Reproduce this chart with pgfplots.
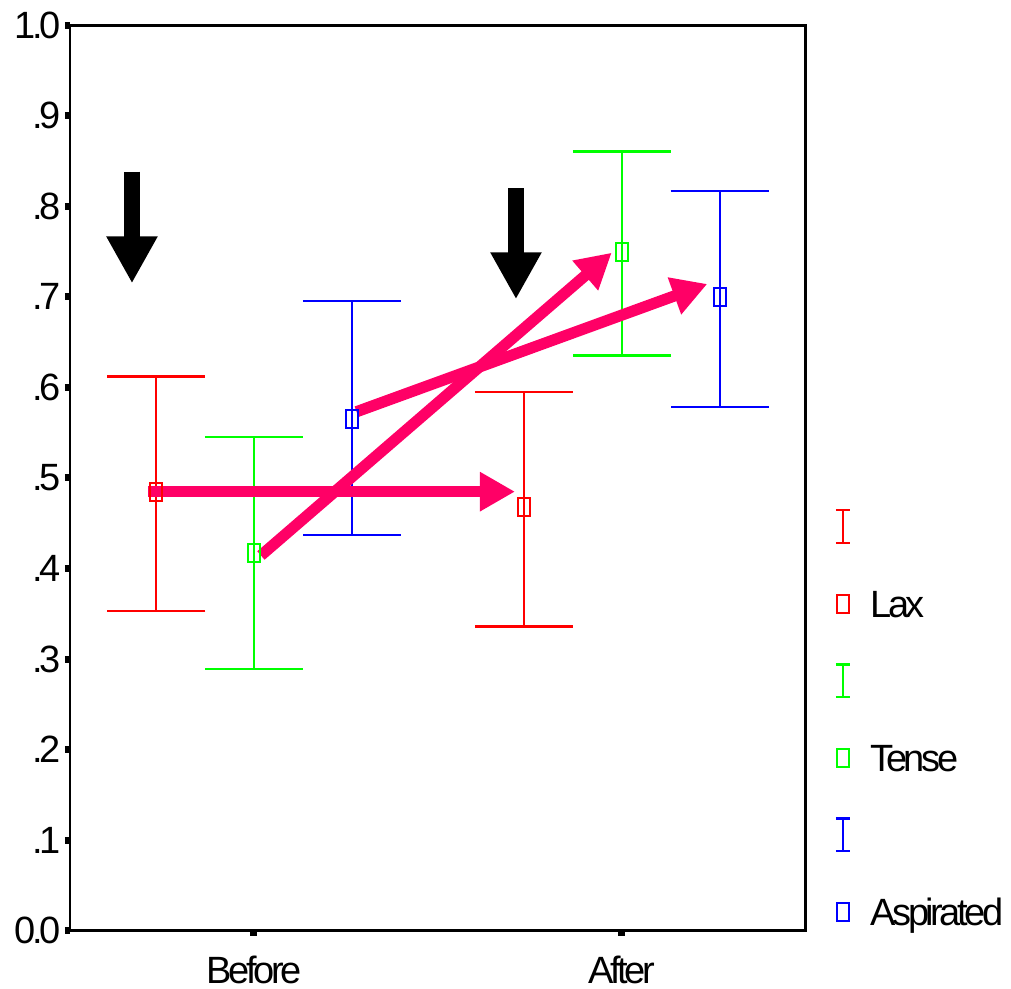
\documentclass[border=0pt]{standalone}
\usepackage{fontspec}
\setmainfont{Liberation Sans}[LetterSpace=-9]
\usepackage{pgfplots}
\pgfplotsset{compat=1.18}
\usetikzlibrary{arrows.meta}
\definecolor{pinkarrow}{RGB}{255,0,102}
\newcommand{\chartfont}{\fontsize{19}{22}\selectfont}
\begin{document}
\begin{tikzpicture}
\path[use as bounding box] (-35pt,-29.15pt) rectangle (470.5pt,465.35pt);
\begin{axis}[
  scale only axis, width=367.85pt, height=452.7pt,
  xmin=0.5, xmax=2.5, ymin=0, ymax=1,
  axis line style={line width=1.4pt},
  tick align=outside, tick pos=left,
  major tick length=2.5pt,
  tick style={line width=3.5pt, black},
  xtick={1,2}, xticklabels={Before,After},
  ytick={0,0.1,0.2,0.3,0.4,0.5,0.6,0.7,0.8,0.9,1.0},
  yticklabels={0.0,.1,.2,.3,.4,.5,.6,.7,.8,.9,1.0},
  tick label style={font=\chartfont},
  yticklabel style={anchor=east, inner sep=0pt, xshift=-1.85pt},
  xticklabel style={anchor=base, inner sep=0pt, yshift=-24.15pt},
  clip=false,
  legend cell align=left,
  legend style={at={(rel axis cs:1,0)}, anchor=south west, xshift=14.3pt, yshift=-0.9pt,
    draw=none, fill=none, inner sep=0pt, row sep=18.55pt, column sep=9.5pt,
    nodes={inner sep=0pt, text height=16.8pt, text depth=3.2pt, font=\chartfont}},
]
% Lax
\addplot[red, only marks, mark=square, mark size=4.5pt, forget plot,
  mark options={xscale=0.667, line width=1pt, solid},
  error bars/.cd, y dir=both, y explicit, error mark=|,
  error bar style={line width=1pt, red},
  error mark options={mark size=24.5pt, line width=1.2pt, red}]
  coordinates {
  (0.735,0.4842) += (0,0.1277) -= (0,0.1311)
  (1.734,0.4676) += (0,0.1274) -= (0,0.1318)
  };
% Tense
\addplot[green, only marks, mark=square, mark size=4.5pt, forget plot,
  mark options={xscale=0.667, line width=1pt, solid},
  error bars/.cd, y dir=both, y explicit, error mark=|,
  error bar style={line width=1pt, green},
  error mark options={mark size=24.5pt, line width=1.2pt, green}]
  coordinates {
  (1.0,0.4168) += (0,0.1282) -= (0,0.1278)
  (2.0,0.7499) += (0,0.1109) -= (0,0.1144)
  };
% Aspirated
\addplot[blue, only marks, mark=square, mark size=4.5pt, forget plot,
  mark options={xscale=0.667, line width=1pt, solid},
  error bars/.cd, y dir=both, y explicit, error mark=|,
  error bar style={line width=1pt, blue},
  error mark options={mark size=24.5pt, line width=1.2pt, blue}]
  coordinates {
  (1.266,0.5652) += (0,0.1306) -= (0,0.1282)
  (2.266,0.6996) += (0,0.1177) -= (0,0.1209)
  };
% pink arrows
\addplot[pinkarrow, line width=5.6pt, -{Triangle[length=17.5pt,width=18.5pt]}, forget plot]
  coordinates {(0.713,0.4849) (1.7097,0.4849)};
\addplot[pinkarrow, line width=5.6pt, -{Triangle[length=17.5pt,width=18.5pt]}, forget plot]
  coordinates {(1.019,0.4144) (1.9726,0.7488)};
\addplot[pinkarrow, line width=5.6pt, -{Triangle[length=17.5pt,width=18.5pt]}, forget plot]
  coordinates {(1.279,0.5732) (2.2325,0.7143)};
% black arrows
\addplot[black, line width=8pt, -{Triangle[length=23.5pt,width=24pt]}, forget plot]
  coordinates {(0.6685,0.8383) (0.6685,0.7150)};
\addplot[black, line width=8pt, -{Triangle[length=23.5pt,width=24pt]}, forget plot]
  coordinates {(1.7124,0.8200) (1.7124,0.6974)};
% legend
\addlegendimage{legend image code/.code={\draw[red, line width=1.2pt] (-3.6pt,-8.15pt)--(3.6pt,-8.15pt) (0pt,-8.15pt)--(0pt,8.15pt) (-3.6pt,8.15pt)--(3.6pt,8.15pt);}}
\addlegendentry{}
\addlegendimage{legend image code/.code={\draw[red, line width=1pt] (-3pt,-4.5pt) rectangle (3pt,4.5pt);}}
\addlegendentry{Lax}
\addlegendimage{legend image code/.code={\draw[green, line width=1.2pt] (-3.6pt,-8.15pt)--(3.6pt,-8.15pt) (0pt,-8.15pt)--(0pt,8.15pt) (-3.6pt,8.15pt)--(3.6pt,8.15pt);}}
\addlegendentry{}
\addlegendimage{legend image code/.code={\draw[green, line width=1pt] (-3pt,-4.5pt) rectangle (3pt,4.5pt);}}
\addlegendentry{Tense}
\addlegendimage{legend image code/.code={\draw[blue, line width=1.2pt] (-3.6pt,-8.15pt)--(3.6pt,-8.15pt) (0pt,-8.15pt)--(0pt,8.15pt) (-3.6pt,8.15pt)--(3.6pt,8.15pt);}}
\addlegendentry{}
\addlegendimage{legend image code/.code={\draw[blue, line width=1pt] (-3pt,-4.5pt) rectangle (3pt,4.5pt);}}
\addlegendentry{Aspirated}
\end{axis}
\end{tikzpicture}
\end{document}
